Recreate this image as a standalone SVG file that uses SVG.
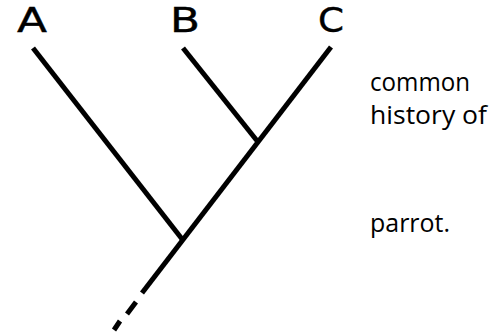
<svg xmlns="http://www.w3.org/2000/svg" width="499" height="334" viewBox="0 0 499 334">
  <style>
    .br { stroke: #000; stroke-width: 5; stroke-linecap: butt; fill: none; }
    .lbl { font-family: "DejaVu Sans", sans-serif; font-size: 33px; fill: #000; stroke: #000; stroke-width: 0.4; }
    .txt { font-family: "Open Sans", "Noto Sans", sans-serif; font-size: 26px; fill: #000; }
  </style>
  <rect width="499" height="334" fill="#fff"/>
  <g id="connectors">
    <line class="br" x1="33" y1="48" x2="182" y2="239"/>
    <line class="br" x1="183" y1="48" x2="258" y2="142"/>
    <line class="br" x1="331" y1="47" x2="142" y2="293"/>
    <line class="br" x1="136" y1="302" x2="127" y2="314"/>
    <line class="br" x1="120" y1="321" x2="114" y2="330"/>
  </g>
  <g id="node-A"><text class="lbl" x="17" y="32" textLength="30" lengthAdjust="spacingAndGlyphs">A</text></g>
  <g id="node-B"><text class="lbl" x="170" y="32" textLength="30" lengthAdjust="spacingAndGlyphs">B</text></g>
  <g id="node-C"><text class="lbl" x="318" y="32" textLength="26" lengthAdjust="spacingAndGlyphs">C</text></g>
  <g id="caption">
    <text class="txt" x="370" y="91" textLength="100" lengthAdjust="spacingAndGlyphs">common</text>
    <text class="txt" x="370" y="124" textLength="117" lengthAdjust="spacingAndGlyphs">history of</text>
    <text class="txt" x="370" y="232" textLength="80" lengthAdjust="spacingAndGlyphs">parrot.</text>
  </g>
</svg>
